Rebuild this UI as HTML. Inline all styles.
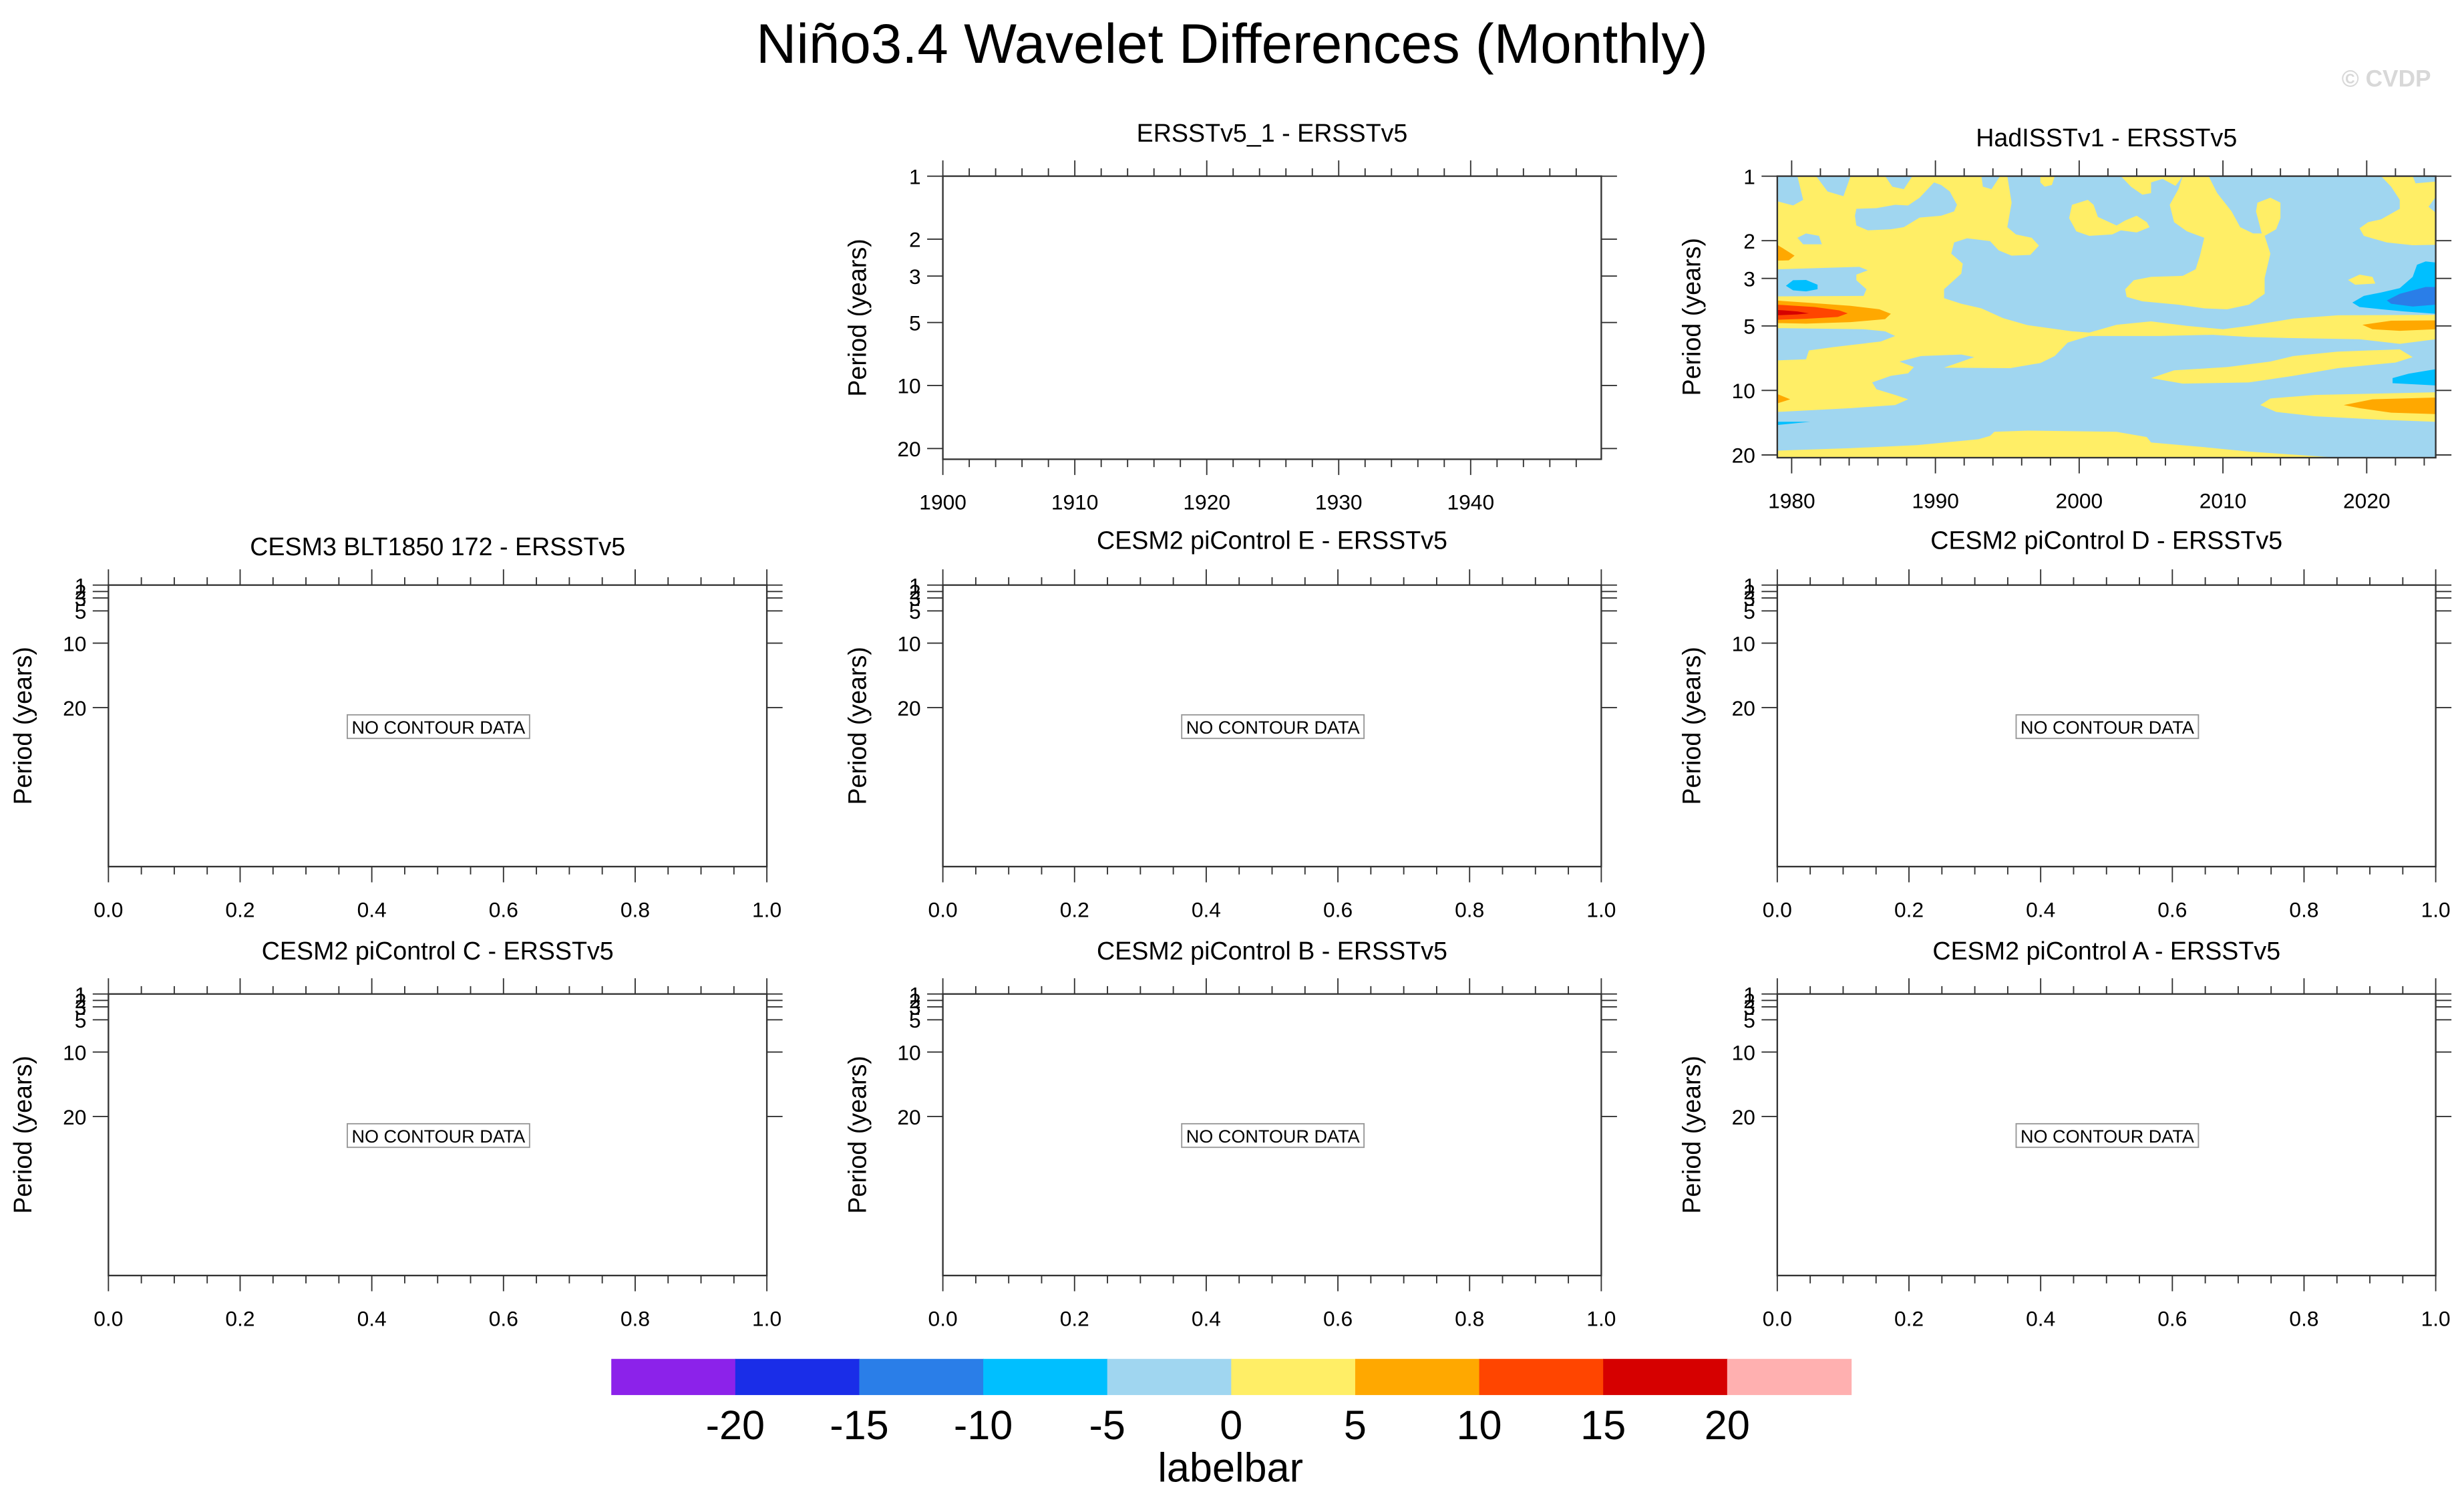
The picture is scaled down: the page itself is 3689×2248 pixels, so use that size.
<!DOCTYPE html>
<html><head><meta charset="utf-8">
<style>
html,body{margin:0;padding:0;background:#fff;}
svg{display:block;font-family:"Liberation Sans",Arial,sans-serif;}
</style></head>
<body>
<svg id="root" xmlns="http://www.w3.org/2000/svg" width="3689" height="2248" viewBox="0 0 1568 955" preserveAspectRatio="none">
<rect x="0" y="0" width="1568" height="955" fill="#fff"/>
<text x="784" y="40" font-size="35.5" text-anchor="middle" fill="#000">Niño3.4 Wavelet Differences (Monthly)</text>
<text x="1547" y="55" font-size="15" font-weight="bold" text-anchor="end" fill="#d8d8d8">© CVDP</text>
<g id="panels"></g>
<g id="labelbar"></g>
</svg>
<script>
// ---- colour bar data ----
const levels = [-20,-15,-10,-5,0,5,10,15,20];
const levelLabels = ["-20","-15","-10","-5","0","5","10","15","20"];
const colors = ['#8c22ea','#1a2de8','#2a7ee8','#00bfff','#a0d6f0','#ffee66','#ffa800','#ff4500','#d60000','#ffb0b0'];

// ---- HadISST contour regions: value + outline in [year, period] ----
const hadBackgroundValue = -2;
const hadRegions = [
 {v:2, pts:[[1979.0,1.31],[1980.1,1.37],[1980.8,1.29],[1980.4,1.00],[1981.7,1.00],[1982.5,1.18],[1983.6,1.24],[1984.1,1],[1986.5,1],[1987.0,1.12],[1987.8,1.15],[1988.4,1],[1993.2,1],[1993.3,1.12],[1993.9,1.15],[1994.5,1],[1995.0,1],[1995.3,1.33],[1995.0,1.73],[1995.6,1.87],[1996.7,1.94],[1997.2,2.11],[1996.6,2.33],[1995.3,2.35],[1994.4,2.22],[1993.8,2.01],[1992.2,1.95],[1991.3,2.04],[1991.1,2.30],[1991.9,2.56],[1991.8,2.85],[1990.6,3.37],[1990.6,3.71],[1991.8,3.94],[1993.2,4.14],[1994.7,4.60],[1996.4,4.96],[1999.5,5.30],[2000.7,5.37],[2002.6,4.94],[2005.0,4.76],[2007.5,5.00],[2010.0,5.18],[2011.8,5.00],[2014.9,4.62],[2018.0,4.46],[2024.8,4.44],[2024.8,5.77],[2022.3,6.06],[2019.5,5.77],[2014.9,5.70],[2011.8,5.63],[2009.3,5.50],[2005.6,5.57],[2000.7,5.57],[1999.2,5.98],[1998.3,6.91],[1997.3,7.45],[1995.2,7.87],[1990.6,7.83],[1992.7,6.99],[1991.8,6.80],[1989.0,6.91],[1987.5,7.33],[1988.5,7.78],[1988.1,8.32],[1986.9,8.55],[1985.6,9.18],[1985.9,9.88],[1987.2,10.5],[1988.1,11.0],[1987.2,11.7],[1984.1,12.1],[1979.0,12.6],[1979.0,7.24],[1981.0,7.16],[1981.2,6.51],[1982.9,6.28],[1986.2,5.91],[1987.2,5.57],[1986.5,5.30],[1985.0,5.18],[1979.0,5.12],[1979.0,3.64],[1985.0,3.62],[1985.2,3.37],[1984.5,3.06],[1984.5,2.88],[1985.3,2.75],[1984.7,2.65],[1979.0,2.72]]},
 {v:-2, pts:[[1984.4,1.53],[1984.5,1.42],[1985.9,1.41],[1987.2,1.36],[1988.1,1.37],[1988.9,1.26],[1989.9,1.07],[1990.4,1.10],[1991.0,1.18],[1991.5,1.36],[1991.3,1.46],[1990.4,1.53],[1988.9,1.56],[1987.8,1.73],[1986.9,1.77],[1985.3,1.79],[1984.5,1.70]]},
 {v:-2, pts:[[1980.4,1.94],[1981.0,1.85],[1981.9,1.90],[1982.1,2.08],[1980.8,2.08]]},
 {v:7, pts:[[1979,2.09],[1980.2,2.35],[1979.8,2.47],[1979,2.48]]},
 {v:-7, pts:[[1979.6,3.25],[1980.1,3.06],[1981.0,3.05],[1981.8,3.21],[1981.8,3.37],[1981.0,3.45],[1980.1,3.41]]},
 {v:7, pts:[[1979,3.81],[1981.0,3.89],[1984.1,4.03],[1986.1,4.18],[1986.9,4.39],[1986.5,4.65],[1984.1,4.80],[1981.0,4.88],[1979,4.85]]},
 {v:12, pts:[[1979,3.98],[1981.6,4.08],[1983.3,4.23],[1983.9,4.37],[1983.2,4.54],[1981.0,4.63],[1979,4.68]]},
 {v:17, pts:[[1979,4.21],[1980.4,4.28],[1981.2,4.37],[1980.4,4.42],[1979,4.46]]},
 {v:7, pts:[[1979,10.4],[1979.9,11.0],[1979,11.5]]},
 {v:-7, pts:[[1979,14.0],[1981.3,14.0],[1979,14.5]]},
 {v:2, pts:[[1997.3,1],[1998.3,1],[1998.1,1.10],[1997.6,1.12],[1997.3,1.07]]},
 {v:2, pts:[[2002.9,1],[2007.2,1],[2006.7,1.11],[2005.8,1.03],[2005.0,1.07],[2005.0,1.20],[2004.4,1.22],[2003.6,1.12]]},
 {v:2, pts:[[1999.5,1.36],[2000.6,1.29],[2001.0,1.36],[2001.3,1.55],[2002.6,1.70],[2003.2,1.61],[2004.0,1.53],[2004.7,1.64],[2004.9,1.73],[2004.0,1.83],[2002.9,1.79],[2002.3,1.87],[2000.7,1.90],[1999.8,1.81],[1999.3,1.57]]},
 {v:2, pts:[[2007.2,1],[2009.0,1],[2009.6,1.20],[2010.6,1.46],[2011.2,1.73],[2012.1,1.85],[2012.7,1.85],[2012.3,1.46],[2012.4,1.33],[2013.3,1.26],[2014.0,1.33],[2014.0,1.57],[2013.7,1.77],[2012.9,1.90],[2013.3,2.30],[2012.9,2.99],[2012.9,3.54],[2011.8,3.98],[2010.3,4.18],[2008.7,4.14],[2006.9,3.98],[2004.4,3.84],[2003.3,3.66],[2003.2,3.37],[2003.8,3.06],[2005.0,2.95],[2007.2,2.92],[2008.1,2.72],[2008.4,2.35],[2008.7,1.94],[2007.5,1.81],[2006.6,1.64],[2006.3,1.36],[2006.9,1.15]]},
 {v:2, pts:[[2021.0,1],[2023.2,1],[2023.4,1.08],[2024.8,1.06],[2024.8,1.25],[2024.3,1.39],[2024.8,1.48],[2024.8,2.09],[2023.2,2.10],[2021.4,2.04],[2019.8,1.90],[2019.5,1.75],[2020.1,1.64],[2021.0,1.59],[2022.3,1.42],[2022.3,1.29],[2021.7,1.12]]},
 {v:2, pts:[[2018.7,3.05],[2019.5,2.88],[2020.4,2.95],[2020.6,3.17],[2019.2,3.21]]},
 {v:-7, pts:[[2019.0,3.89],[2019.8,3.62],[2021.0,3.49],[2022.3,3.33],[2023.2,2.95],[2023.5,2.59],[2024.1,2.50],[2024.8,2.53],[2024.8,4.39],[2022.6,4.28],[2021.0,4.18],[2019.5,4.08]]},
 {v:-12, pts:[[2021.4,3.80],[2022.3,3.54],[2024.1,3.29],[2024.8,3.29],[2024.8,3.98],[2023.2,4.06],[2021.7,3.94]]},
 {v:7, pts:[[2019.7,4.94],[2021.7,4.73],[2024.8,4.71],[2024.8,5.18],[2022.3,5.27],[2020.4,5.18]]},
 {v:2, pts:[[2005.0,8.76],[2006.6,8.06],[2010.3,7.78],[2013.3,7.33],[2014.9,6.91],[2018.0,6.59],[2022.3,6.43],[2023.2,6.99],[2022.0,7.41],[2018.0,7.87],[2014.9,8.55],[2011.8,9.18],[2007.2,9.29]]},
 {v:-7, pts:[[2021.8,8.76],[2022.9,8.36],[2024.8,7.96],[2024.8,9.48],[2021.8,9.25]]},
 {v:2, pts:[[2012.6,11.7],[2013.3,10.9],[2016.4,10.5],[2024.8,10.2],[2024.8,14.0],[2021.0,13.7],[2016.4,13.2],[2013.7,12.6]]},
 {v:7, pts:[[2018.4,11.7],[2020.4,11.0],[2024.8,10.8],[2024.8,12.9],[2021.7,12.7],[2019.5,12.1]]},
 {v:2, pts:[[1979,19.1],[1984.1,18.6],[1988.7,18.0],[1993.0,16.9],[1993.8,16.3],[1994.1,15.6],[1996.4,15.4],[2002.6,15.6],[2004.7,16.5],[2005.0,17.5],[2008.7,18.4],[2011.8,19.3],[2018.0,20.6],[1979,20.6]]}
];

// ---- axis tick data ----
const ersstYears = [1900,1910,1920,1930,1940];
const hadYears = [1980,1990,2000,2010,2020];
const unitTicks = ["0.0","0.2","0.4","0.6","0.8","1.0"];
const periodTicks = [1,2,3,5,10,20];

const NS = "http://www.w3.org/2000/svg";
function mk(tag, attrs, parent){
  const e = document.createElementNS(NS, tag);
  for (const k in attrs) e.setAttribute(k, attrs[k]);
  parent.appendChild(e);
  return e;
}
function colorFor(v){ let i=0; while(i<levels.length && v>=levels[i]) i++; return colors[i]; }

const panelsG = document.getElementById('panels');

const panels = [
 {name:'ersstv5-1', title:'ERSSTv5_1 - ERSSTv5', x0:600, x1:1019, y0:112, y1:292, titleY:90, xmode:'ersst', ymode:'log', ymax:22.5},
 {name:'hadisstv1', title:'HadISSTv1 - ERSSTv5', x0:1131, x1:1550, y0:112, y1:291, titleY:93, xmode:'had', ymode:'log', ymax:20.6, data:true},
 {name:'cesm3-blt1850', title:'CESM3 BLT1850 172 - ERSSTv5', x0:69, x1:488, y0:372, y1:551, titleY:353, xmode:'unit', ymode:'lin', nodata:true},
 {name:'cesm2-picontrol-e', title:'CESM2 piControl E - ERSSTv5', x0:600, x1:1019, y0:372, y1:551, titleY:349, xmode:'unit', ymode:'lin', nodata:true},
 {name:'cesm2-picontrol-d', title:'CESM2 piControl D - ERSSTv5', x0:1131, x1:1550, y0:372, y1:551, titleY:349, xmode:'unit', ymode:'lin', nodata:true},
 {name:'cesm2-picontrol-c', title:'CESM2 piControl C - ERSSTv5', x0:69, x1:488, y0:632, y1:811, titleY:610, xmode:'unit', ymode:'lin', nodata:true},
 {name:'cesm2-picontrol-b', title:'CESM2 piControl B - ERSSTv5', x0:600, x1:1019, y0:632, y1:811, titleY:610, xmode:'unit', ymode:'lin', nodata:true},
 {name:'cesm2-picontrol-a', title:'CESM2 piControl A - ERSSTv5', x0:1131, x1:1550, y0:632, y1:811, titleY:610, xmode:'unit', ymode:'lin', nodata:true}
];

panels.forEach(p => {
  const g = mk('g', {}, panelsG);
  
  
  const W = p.x1 - p.x0, H = p.y1 - p.y0;
  let xmin, xmax, majors = [], minorStep, majorLabels = [];
  if (p.xmode === 'ersst'){ xmin = 1900; xmax = 1949.9; minorStep = 2; majors = ersstYears.slice(); majorLabels = ersstYears.map(String); }
  else if (p.xmode === 'had'){ xmin = 1979.0; xmax = 2024.8; minorStep = 2; majors = hadYears.slice(); majorLabels = hadYears.map(String); }
  else { xmin = 0; xmax = 1; minorStep = 0.05; majors = unitTicks.map(Number); majorLabels = unitTicks.slice(); }
  const X = v => p.x0 + (v - xmin) / (xmax - xmin) * W;
  let Y;
  if (p.ymode === 'log') Y = v => p.y0 + Math.log10(v) / Math.log10(p.ymax) * H;
  else Y = v => p.y0 + (v - 1) * 4.1;

  if (p.data){
    const cg = mk('g', {}, g);
    
    
    const bg = mk('rect', {x:p.x0, y:p.y0, width:W, height:H, fill:colorFor(hadBackgroundValue)}, cg);
    
    
    hadRegions.forEach((r, i) => {
      const d = r.pts.map((q, j) => (j ? 'L' : 'M') + X(q[0]).toFixed(2) + ' ' + Y(q[1]).toFixed(2)).join(' ') + ' Z';
      const path = mk('path', {d:d, fill:colorFor(r.v), stroke:'none'}, cg);
      
      
    });
  }

  const fr = mk('rect', {x:p.x0, y:p.y0, width:W, height:H, fill:'none', stroke:'#333', 'stroke-width':1}, g);
  
  

  const t = mk('text', {x:(p.x0 + p.x1)/2, y:p.titleY, 'font-size':16, 'text-anchor':'middle', fill:'#000'}, g);
  t.textContent = p.title;
  
  

  const ticks = mk('g', {stroke:'#333', 'stroke-width':0.8}, g);
  
  
  for (let v = xmin === 1979.0 ? 1980 : xmin; v <= xmax + 1e-9; v += minorStep){
    const isMajor = majors.some(m => Math.abs(m - v) < 1e-6);
    const len = isMajor ? 10 : 5;
    const x = X(v);
    mk('line', {x1:x, y1:p.y1, x2:x, y2:p.y1 + len}, ticks);
    mk('line', {x1:x, y1:p.y0, x2:x, y2:p.y0 - len}, ticks);
  }
  majors.forEach((m, i) => {
    const tl = mk('text', {x:X(m), y:p.y1 + 32, 'font-size':13.5, 'text-anchor':'middle', fill:'#000'}, g);
    tl.textContent = majorLabels[i];
    
    
  });

  const yt = mk('g', {stroke:'#333', 'stroke-width':0.8}, g);
  
  
  periodTicks.forEach(v => {
    const y = Y(v);
    mk('line', {x1:p.x0 - 10, y1:y, x2:p.x0, y2:y}, yt);
    mk('line', {x1:p.x1, y1:y, x2:p.x1 + 10, y2:y}, yt);
    const yl = mk('text', {x:p.x0 - 14, y:y + 5, 'font-size':13.5, 'text-anchor':'end', fill:'#000'}, g);
    yl.textContent = String(v);
    
    
  });

  const cy = (p.y0 + p.y1)/2;
  const ax = p.x0 - 49;
  const ya = mk('text', {x:ax, y:cy, 'font-size':16, 'text-anchor':'middle', fill:'#000', transform:'rotate(-90 ' + ax + ' ' + cy + ')'}, g);
  ya.textContent = 'Period (years)';
  
  

  if (p.nodata){
    const cx = (p.x0 + p.x1)/2 + 0.5;
    const by = p.y0 + 90;
    const nb = mk('rect', {x:cx - 58, y:by - 7.5, width:116, height:15, fill:'#fff', stroke:'#999', 'stroke-width':0.8}, g);
    
    
    const nt = mk('text', {x:cx, y:by + 4.5, 'font-size':11.5, 'text-anchor':'middle', fill:'#000'}, g);
    nt.textContent = 'NO CONTOUR DATA';
    
    
  }
});

const lb = document.getElementById('labelbar');


const lbX0 = 389, lbX1 = 1178, lbY = 864, lbH = 23;
const bw = (lbX1 - lbX0) / colors.length;
colors.forEach((c, i) => {
  const r = mk('rect', {x:lbX0 + i*bw, y:lbY, width:bw + 0.3, height:lbH, fill:c}, lb);
  
  
});
levels.forEach((lv, i) => {
  const t = mk('text', {x:lbX0 + (i+1)*bw, y:915, 'font-size':26, 'text-anchor':'middle', fill:'#000'}, lb);
  t.textContent = levelLabels[i];
  
  
});
const lt = mk('text', {x:783, y:942, 'font-size':26, 'text-anchor':'middle', fill:'#000'}, lb);
lt.textContent = 'labelbar';


</script>
</body></html>
